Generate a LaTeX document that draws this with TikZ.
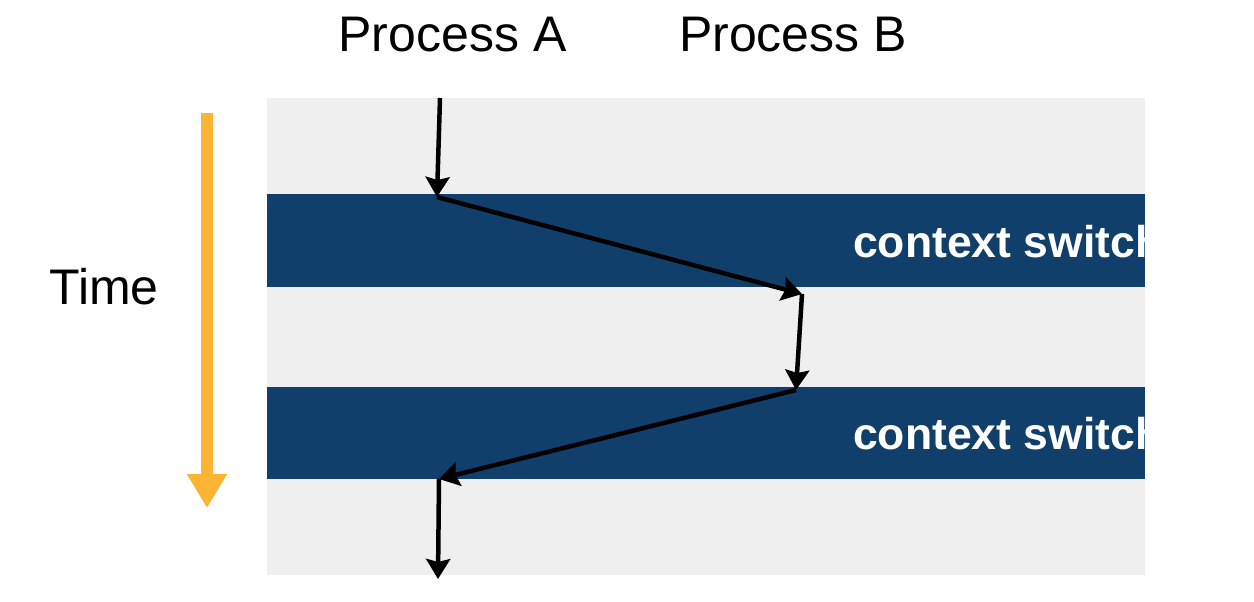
\documentclass[tikz,border=0pt]{standalone}
\usepackage{fontspec}
\setmainfont{Liberation Sans}
\usetikzlibrary{arrows.meta}
\definecolor{bggrey}{HTML}{EFEFEF}
\definecolor{bandblue}{HTML}{0F3F6A}
\definecolor{timeorange}{HTML}{FBB433}
\begin{document}
\begin{tikzpicture}[x=1pt,y=-1pt,
  flow/.style={line width=4.5pt,black,-{Stealth[length=20pt,width=24pt,inset=3pt]}},
  label/.style={inner sep=0pt,font=\fontsize{50}{60}\selectfont},
  bandlabel/.style={inner sep=0pt,anchor=base west,text=white,font=\fontsize{44.5}{52}\selectfont\bfseries}]
\useasboundingbox (0,0) rectangle (1254,602);
\fill[white] (0,0) rectangle (1254,602);
% background and bands
\fill[bggrey] (267,98) rectangle (1145,575);
\fill[bandblue] (267,194) rectangle (1145,287);
\fill[bandblue] (267,387) rectangle (1145,479);
\begin{scope}
  \clip (267,98) rectangle (1145,575);
  \node[bandlabel] (cs1) at (853,257) {context switch};
  \node[bandlabel] (cs2) at (853,449) {context switch};
\end{scope}
% titles
\node[label,anchor=base] (pa) at (452.5,52) {Process A};
\node[label,anchor=base] (pb) at (793,52) {Process B};
\node[label,anchor=base] (time) at (104,304) {Time};
% time arrow
\coordinate (t0) at (207,113);
\coordinate (t1) at (207,508);
\draw[timeorange,line width=12pt,-{Triangle[length=34pt,width=38pt]}] (t0) -- (t1);
% flow path
\coordinate (a0) at (440,98);
\coordinate (a1) at (437,197);
\coordinate (b1) at (802,294);
\coordinate (b2) at (796,390);
\coordinate (a2) at (439,479);
\coordinate (a3) at (438,579);
\draw[flow] (a0) -- (a1);
\draw[flow] (a1) -- (b1);
\draw[flow] (b1) -- (b2);
\draw[flow] (b2) -- (a2);
\draw[flow] (a2) -- (a3);
\end{tikzpicture}
\end{document}
